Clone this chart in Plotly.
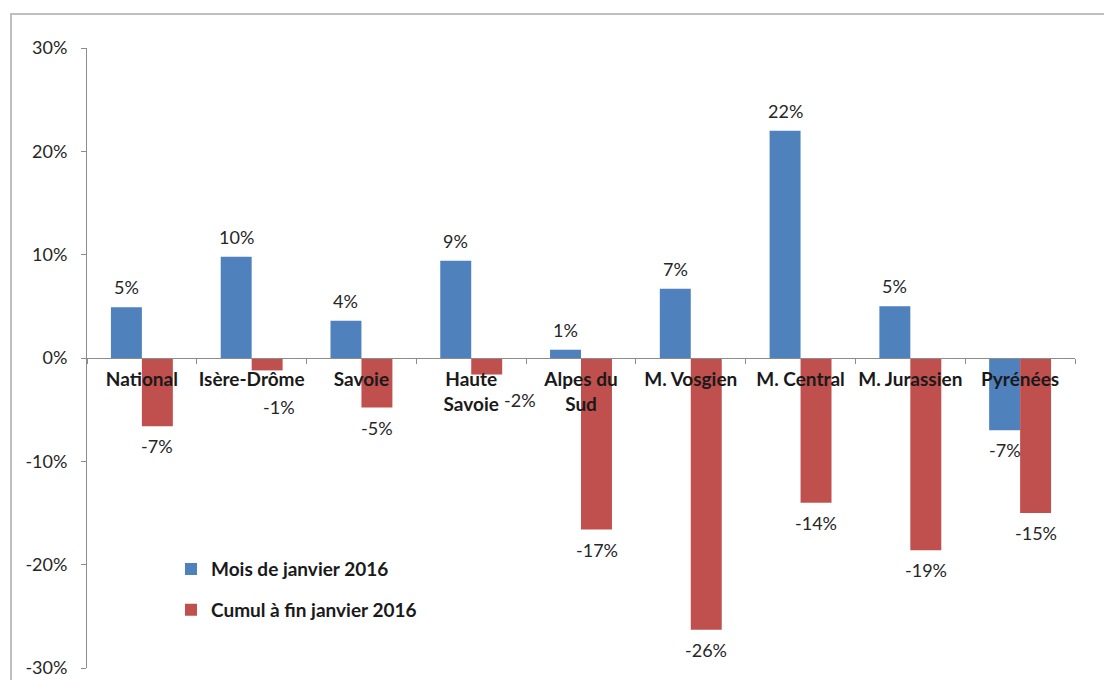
import plotly.graph_objects as go

categories = ["National", "Isère-Drôme", "Savoie", "Haute<br>Savoie", "Alpes du<br>Sud",
              "M. Vosgien", "M. Central", "M. Jurassien", "Pyrénées"]
series_names = ["Mois de janvier 2016", "Cumul à fin janvier 2016"]
mois_values = [4.9, 9.8, 3.6, 9.4, 0.8, 6.7, 22.0, 5.0, -7.0]
cumul_values = [-6.6, -1.2, -4.8, -1.6, -16.6, -26.3, -14.0, -18.6, -15.0]
y_ticks = [-30, -20, -10, 0, 10, 20, 30]
y_tick_labels = ["-30%", "-20%", "-10%", "0%", "10%", "20%", "30%"]

colors = ["#4F81BD", "#C0504D"]
FONT = "Lato, 'Open Sans', sans-serif"

fig = go.Figure()
for name, vals, col in zip(series_names, [mois_values, cumul_values], colors):
    fig.add_trace(go.Bar(x=categories, y=vals, name=name, marker_color=col,
                         marker_line_width=0, legendgroup=name))

# data labels (Excel-like "outside end"), a few nudged like in the original
label_nudge = {(1, 1): (12, -17), (1, 3): (33, -5)}
half_bar = 15.5
anns = []
for si, vals in enumerate([mois_values, cumul_values]):
    for ci, (cat, v) in enumerate(zip(categories, vals)):
        dx, dy = label_nudge.get((si, ci), (0, 0))
        anns.append(dict(
            x=cat, y=v, xref="x", yref="y", text=f"{round(v):d}%", showarrow=False,
            xshift=(-half_bar if si == 0 else half_bar) + dx,
            yshift=(7 if v >= 0 else -7) + dy,
            yanchor="bottom" if v >= 0 else "top",
            font=dict(family=FONT, size=18, color="#262626")))

fig.update_layout(
    width=1104, height=680,
    margin=dict(l=87, r=29, t=48, b=12),
    paper_bgcolor="white", plot_bgcolor="white",
    barmode="group", bargap=0.436, bargroupgap=0,
    font=dict(family=FONT, size=18, color="#262626"),
    showlegend=True,
    legend=dict(x=0.085, y=0.19, xanchor="left", yanchor="top",
                bgcolor="rgba(0,0,0,0)", tracegroupgap=13, traceorder="grouped",
                font=dict(family=FONT, size=19, color="#1a1a1a", weight="bold"),
                itemwidth=30),
    annotations=anns,
    shapes=[dict(type="rect", xref="paper", yref="paper",
                 x0=-76 / 988, x1=1.2, y0=-0.2, y1=1 + 34 / 620,
                 line=dict(color="#BFBFBF", width=2), fillcolor="rgba(0,0,0,0)",
                 layer="below")],
)

fig.update_xaxes(
    anchor="free", position=0.5, showline=True, linecolor="#8C8C8C", linewidth=1,
    ticks="outside", tickson="boundaries", ticklen=5, tickcolor="#8C8C8C",
    ticklabelstandoff=4, showgrid=False, zeroline=False, automargin=False,
    tickangle=0,
    tickfont=dict(family=FONT, size=19, color="#1a1a1a", weight="bold"),
)
fig.update_yaxes(
    range=[-30, 30], tickvals=y_ticks, ticktext=y_tick_labels,
    showline=True, linecolor="#8C8C8C", linewidth=1, ticks="outside", ticklen=5,
    tickcolor="#8C8C8C", showgrid=False, zeroline=False, ticklabelstandoff=10,
    automargin=False, ticklabeloverflow="allow",
    tickfont=dict(family=FONT, size=18, color="#262626"),
)

fig.write_html("out.html", config={"displayModeBar": False},
               post_script="document.body.style.margin='0px';")
